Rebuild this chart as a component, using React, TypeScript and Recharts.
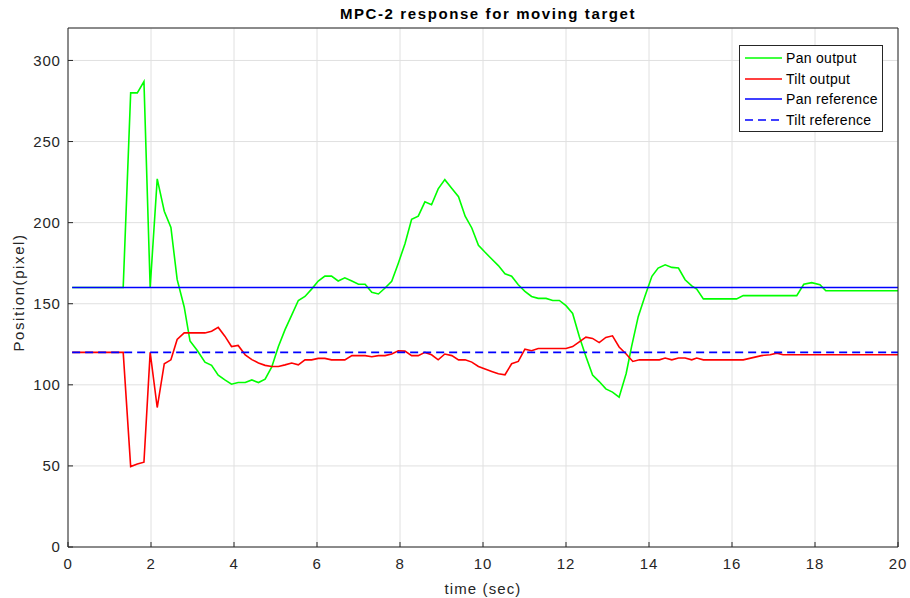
import React from "react";
import { LineChart, Line, XAxis, YAxis, CartesianGrid, Legend, Label } from "recharts";

// ---- data ----
const panTime = [0.1, 1.33, 1.51, 1.67, 1.83, 1.98, 2.15, 2.32, 2.48, 2.63, 2.80, 2.94, 3.12, 3.30, 3.46, 3.62, 3.78, 3.94, 4.10, 4.27, 4.43, 4.59, 4.75, 4.91, 5.07, 5.23, 5.39, 5.55, 5.71, 5.87, 6.03, 6.19, 6.35, 6.51, 6.67, 6.84, 7.0, 7.16, 7.32, 7.48, 7.64, 7.80, 7.96, 8.12, 8.28, 8.44, 8.60, 8.76, 8.92, 9.08, 9.25, 9.41, 9.57, 9.73, 9.89, 10.05, 10.21, 10.37, 10.53, 10.69, 10.85, 11.01, 11.17, 11.33, 11.52, 11.68, 11.84, 12.0, 12.16, 12.32, 12.48, 12.64, 12.80, 12.96, 13.12, 13.28, 13.45, 13.58, 13.74, 13.90, 14.07, 14.22, 14.39, 14.55, 14.71, 14.87, 15.03, 15.15, 15.31, 16.11, 16.27, 17.56, 17.73, 17.92, 18.12, 18.26, 20];
const panOutput = [160, 160, 280, 280, 287, 160, 227, 207, 197, 165, 148, 127, 121, 114, 112, 106, 103, 100.4, 101.4, 101.4, 103, 101.4, 103.5, 111, 123.6, 134, 143, 152, 154.5, 159, 164, 167, 167, 164, 166, 164, 162, 162, 157, 156, 159.7, 163.8, 175, 187, 202, 204, 212.8, 211, 220.8, 226.5, 221, 216, 204, 196.7, 186, 181.7, 177.6, 173.5, 168.5, 167, 161.7, 157.6, 154.5, 153.3, 153.3, 152, 152, 148.8, 144, 129.8, 117.5, 106, 102, 97.5, 95.5, 92.4, 107, 123.6, 142, 154.5, 166.9, 172, 174, 172.4, 172, 164.8, 161, 159, 153, 153, 155, 155, 162, 163, 161.7, 158, 158];

const tiltTime = [0.1, 1.33, 1.51, 1.67, 1.83, 1.98, 2.15, 2.32, 2.48, 2.63, 2.80, 2.98, 3.30, 3.46, 3.62, 3.78, 3.94, 4.10, 4.27, 4.43, 4.59, 4.75, 4.91, 5.07, 5.23, 5.39, 5.55, 5.71, 5.87, 6.03, 6.19, 6.35, 6.67, 6.84, 7.16, 7.32, 7.48, 7.64, 7.80, 7.96, 8.12, 8.28, 8.44, 8.60, 8.76, 8.92, 9.08, 9.25, 9.41, 9.57, 9.73, 9.89, 10.05, 10.21, 10.37, 10.53, 10.69, 10.85, 11.01, 11.17, 11.33, 12.0, 12.16, 12.32, 12.48, 12.64, 12.80, 12.96, 13.12, 13.28, 13.45, 13.61, 13.77, 14.25, 14.39, 14.55, 14.71, 14.87, 15.03, 15.15, 15.31, 16.27, 16.71, 16.92, 17.08, 17.23, 20];
const tiltOutput = [120, 120, 49.6, 51.2, 52.3, 120, 86, 113, 115.4, 128, 132, 132, 132, 133, 135.4, 130, 123.6, 124.3, 118.5, 115.5, 113.5, 112, 111.3, 111.3, 112.3, 113.4, 112.3, 115.4, 115.4, 116.3, 116.3, 115.4, 115.4, 118, 118, 117.3, 118, 118, 119, 121, 120.8, 118, 118, 120, 118.5, 115.4, 119, 118, 115.4, 115.4, 114, 111.3, 109.7, 108.2, 106.8, 106.2, 113, 114.4, 122, 121, 122.4, 122.4, 123.6, 126.5, 129.4, 128.6, 126, 129.2, 130.2, 123.3, 119, 114.4, 115.4, 115.4, 116.5, 115.4, 116.5, 116.5, 115.4, 116.5, 115.4, 115.4, 118, 118.5, 119.5, 118.5, 118.5];

const refTime = [0.1, 20];
const panReference = [160, 160];
const tiltReference = [120, 120];

const timeTicks = [0, 2, 4, 6, 8, 10, 12, 14, 16, 18, 20];
const positionTicks = [0, 50, 100, 150, 200, 250, 300];

const zip = (ts: number[], vs: number[]) => ts.map((t, i) => ({ t, v: vs[i] }));

const series = [
  { name: "Pan output", data: zip(panTime, panOutput), color: "#00ff00", dash: undefined as string | undefined },
  { name: "Tilt output", data: zip(tiltTime, tiltOutput), color: "#ff0000", dash: undefined as string | undefined },
  { name: "Pan reference", data: zip(refTime, panReference), color: "#0000ff", dash: undefined as string | undefined },
  { name: "Tilt reference", data: zip(refTime, tiltReference), color: "#0000ff", dash: "8 5" },
];

const FONT = '"Liberation Sans", Arial, Helvetica, sans-serif';
const AXIS_COLOR = "#262626";

const LegendBox = () => (
  <div
    style={{
      width: 142,
      height: 83,
      border: `1px solid ${AXIS_COLOR}`,
      background: "#fff",
      boxSizing: "content-box",
      paddingTop: 2,
      fontFamily: FONT,
      fontSize: 14,
      letterSpacing: 0.3,
      color: "#000",
    }}
  >
    {series.map((s) => (
      <div key={s.name} style={{ display: "flex", alignItems: "center", height: 20.6 }}>
        <svg width={37} height={6} style={{ marginLeft: 5, display: "block" }}>
          <line x1={0} y1={3} x2={37} y2={3} stroke={s.color} strokeWidth={1.6} strokeDasharray={s.dash} />
        </svg>
        <span style={{ marginLeft: 4, lineHeight: "16px", whiteSpace: "nowrap" }}>{s.name}</span>
      </div>
    ))}
  </div>
);

const YLabel = (props: any) => {
  const vb = props.viewBox || {};
  const cx = vb.x + 10.3;
  const cy = vb.y + vb.height / 2 + 5;
  return (
    <text
      x={cx}
      y={cy}
      transform={`rotate(-90 ${cx} ${cy})`}
      textAnchor="middle"
      dominantBaseline="central"
      fontFamily={FONT}
      fontSize={15}
      letterSpacing={1.6}
      fill={AXIS_COLOR}
    >
      Position(pixel)
    </text>
  );
};

export default function App() {
  const tickStyle = { fontFamily: FONT, fontSize: 15, fill: AXIS_COLOR, letterSpacing: 0.8 };
  return (
    <div style={{ position: "relative", width: 910, height: 598, boxSizing: "border-box", paddingLeft: 8, paddingTop: 8, background: "#fff" }}>
      <style>{"html,body{margin:0;overflow:hidden;background:#fff}"}</style>
      <div
        style={{
          position: "absolute",
          left: 288,
          width: 400,
          top: 5,
          textAlign: "center",
          fontFamily: FONT,
          fontWeight: "bold",
          fontSize: 15,
          letterSpacing: 1.6,
          lineHeight: "18px",
          color: "#000",
          zIndex: 2,
        }}
      >
        MPC-2 response for moving target
      </div>
      <LineChart width={902} height={590} margin={{ top: 19, right: 11, bottom: 0, left: 0 }} style={{ overflow: "visible" }}>
        <CartesianGrid stroke="#e0e0e0" strokeWidth={1} />
        <XAxis
          dataKey="t"
          type="number"
          domain={[0, 20]}
          ticks={timeTicks}
          interval={0}
          height={51}
          stroke={AXIS_COLOR}
          tickSize={-5}
          tickMargin={16.7}
          tick={tickStyle}
        >
          <Label
            value="time (sec)"
            position="insideBottom"
            offset={4}
            style={{ fontFamily: FONT, fontSize: 15, letterSpacing: 1.1, fill: AXIS_COLOR }}
          />
        </XAxis>
        <XAxis
          xAxisId="top"
          orientation="top"
          dataKey="t"
          type="number"
          domain={[0, 20]}
          ticks={timeTicks}
          interval={0}
          height={1}
          stroke={AXIS_COLOR}
          tickSize={-5}
          tickFormatter={() => ""}
        />
        <YAxis
          type="number"
          domain={[0, 320]}
          ticks={positionTicks}
          interval={0}
          width={60}
          stroke={AXIS_COLOR}
          tickSize={-5}
          tickMargin={12.3}
          tick={tickStyle}
        >
          <Label content={YLabel} position="insideLeft" />
        </YAxis>
        <YAxis
          yAxisId="right"
          orientation="right"
          type="number"
          domain={[0, 320]}
          ticks={positionTicks}
          interval={0}
          width={1}
          stroke={AXIS_COLOR}
          tickSize={-5}
          tickFormatter={() => ""}
        />
        {series.map((s) => (
          <Line
            key={s.name}
            data={s.data}
            dataKey="v"
            name={s.name}
            type="linear"
            stroke={s.color}
            strokeWidth={1.6}
            strokeDasharray={s.dash}
            dot={false}
            activeDot={false}
            isAnimationActive={false}
          />
        ))}
        <Legend
          layout="horizontal"
          verticalAlign="middle"
          align="center"
          content={() => <LegendBox />}
          wrapperStyle={{ position: "absolute", left: 731, top: 37, width: 144, height: 87 }}
        />
      </LineChart>
    </div>
  );
}
